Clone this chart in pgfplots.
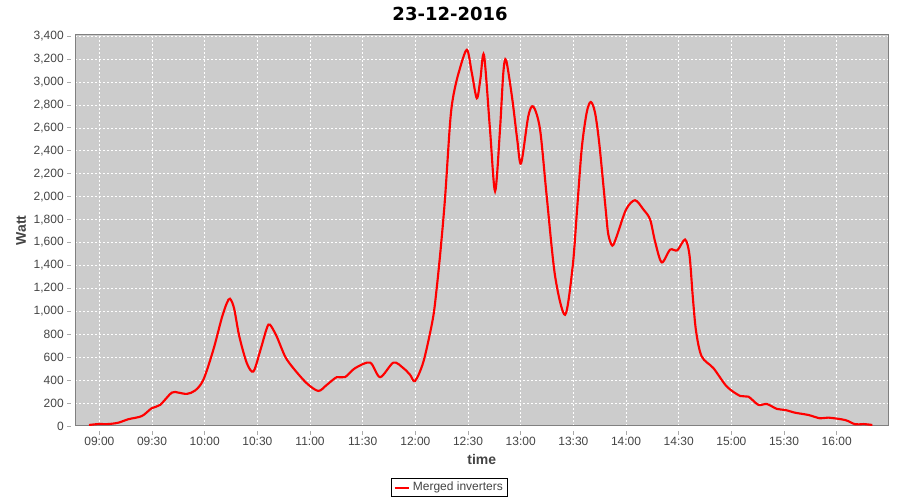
\documentclass[border=0pt]{standalone}
\usepackage{fontspec}
\setmainfont{Liberation Sans}
\newfontfamily\titlefont{DejaVu Sans}
\usepackage{pgfplots}
\pgfplotsset{compat=1.18}
\definecolor{plotbg}{RGB}{204,204,204}
\definecolor{border}{RGB}{128,128,128}
\definecolor{axline}{RGB}{170,170,170}
\definecolor{ticklab}{RGB}{68,68,68}
\definecolor{lred}{RGB}{255,0,0}
\begin{document}
\begin{tikzpicture}
\path[use as bounding box] (0,0) rectangle (675pt,375pt);
\begin{axis}[
  at={(56.5pt,55.5pt)}, anchor=south west,
  scale only axis, width=609.75pt, height=293.25pt,
  xmin=526.3, xmax=989.4, ymin=0, ymax=3410,
  axis background/.style={fill=plotbg},
  axis line style={draw=border, line width=0.75pt},
  xtick={540,570,...,960},
  xticklabels={09:00,09:30,10:00,10:30,11:00,11:30,12:00,12:30,13:00,13:30,14:00,14:30,15:00,15:30,16:00},
  ytick={0,200,...,3400},
  xtick pos=bottom, ytick pos=left,
  tick align=outside, major tick length=3pt,
  xtick style={draw=axline, line width=0.6pt, yshift=-3.4pt},
  ytick style={draw=axline, line width=0.6pt, xshift=-3.2pt},
  tick label style={font=\fontsize{9pt}{10pt}\selectfont, text=ticklab},
  xticklabel style={inner sep=0pt, anchor=north, yshift=-5.25pt},
  yticklabel style={inner sep=0pt, anchor=east, xshift=-5.5pt},
  /pgf/number format/.cd, fixed, 1000 sep={,}, assume math mode=true,
  /pgfplots/.cd,
  grid=major,
  major grid style={draw=white, line width=0.5pt, dash pattern=on 1.5pt off 1.5pt},
  xlabel={time}, ylabel={Watt},
  label style={font=\bfseries\fontsize{10.5pt}{12pt}\selectfont, text=ticklab},
  x label style={at={(axis description cs:0.5,-0.0844)}, anchor=center, inner sep=0pt},
  y label style={at={(axis description cs:-0.0668,0.5)}, anchor=center, inner sep=0pt},
  title={23-12-2016},
  title style={at={(axis description cs:0.4609,1.0332)}, anchor=center, inner sep=0pt,
    font=\titlefont\bfseries\fontsize{13.5pt}{16pt}\selectfont},
  legend style={at={(axis description cs:0.4603,-0.1573)}, anchor=center,
    draw=black, line width=0.6pt, fill=white, inner xsep=1.5pt, inner ysep=1pt,
    font=\fontsize{9pt}{10pt}\selectfont, text=ticklab},
  legend image code/.code={\draw[#1, line width=1.5pt] (0pt,0pt) -- (11pt,0pt);},
]
\addplot[lred, line width=1.6pt, smooth] coordinates {
(534.1,9) (539.4,17) (545.1,17) (550.8,29) (556.5,59) (564.2,87) (569.8,155)
(574.6,184) (581.2,291) (585.0,291) (589.8,280) (594.5,309) (599.2,402)
(604.9,664) (609.7,941) (612.6,1072) (614.4,1110) (616.7,1028) (619.7,781)
(624.0,548) (627.7,475) (631.5,650) (635.4,854) (637.2,883) (641.0,781)
(645.8,606) (650.5,504) (658.1,373) (664.7,306) (669.5,358) (675.2,426)
(679.9,426) (685.6,504) (694.2,553) (699.9,426) (707.5,553) (713.2,504)
(717.0,446) (719.8,393) (724.6,562) (729.9,930) (732.2,1210) (734.5,1560)
(736.9,1990) (739.8,2651) (741.6,2878) (744.7,3083) (749.3,3281) (752.1,3083)
(755.0,2858) (757.0,3022) (759.1,3234) (762.5,2587) (765.4,2048) (768.2,2587)
(770.1,3083) (771.7,3190) (775.2,2851) (778.0,2500) (780.2,2290) (784.3,2700)
(787.2,2786) (791.0,2587) (794.8,2004) (799.6,1305) (805.3,970) (809.6,1393)
(812.1,1888) (814.8,2427) (817.6,2735) (819.9,2826) (822.3,2735) (824.8,2456)
(828.4,1888) (829.9,1670) (832.2,1573) (834.7,1655) (840.0,1888) (845.1,1969)
(849.9,1888) (853.7,1801) (856.5,1611) (860.3,1427) (865.1,1538) (869.2,1532)
(873.6,1626) (876.1,1495) (878.0,1130) (879.9,824) (883.1,606) (889.8,504)
(897.4,344) (905.0,262) (909.7,256) (915.4,184) (920.2,192) (925.9,149)
(930.6,140) (936.3,116) (943.9,96) (950.5,67) (955.2,73) (964.8,52)
(970.5,15) (975.2,17) (980.3,9)
};
\addlegendentry{Merged inverters}
\draw[axline, line width=0.6pt] (rel axis cs:0,0) ++(0,-3.4pt) -- ++(609.75pt,0);
\draw[axline, line width=0.6pt] (rel axis cs:0,0) ++(-3.2pt,0) -- ++(0,293.25pt);
\end{axis}
\end{tikzpicture}
\end{document}
